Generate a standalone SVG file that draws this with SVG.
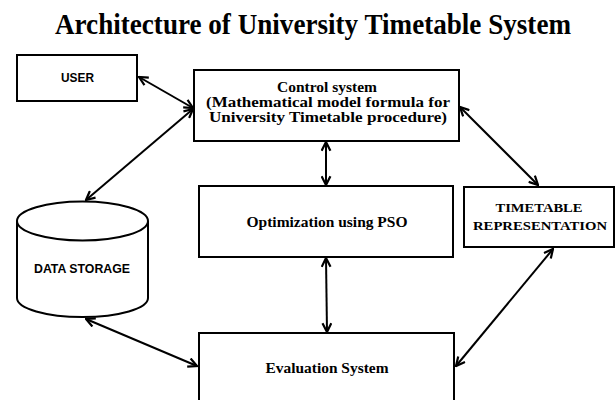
<svg xmlns="http://www.w3.org/2000/svg" width="615" height="400" viewBox="0 0 615 400">
<defs>
<style>
.box{fill:#fff;stroke:#000;stroke-width:2}
.serif{font-family:"Liberation Serif","Times New Roman",serif;font-weight:bold;fill:#000;text-anchor:middle}
.sans{font-family:"Liberation Sans",Arial,sans-serif;font-weight:bold;fill:#000;text-anchor:middle}
.conn{stroke:#000;stroke-width:2;fill:none;marker-start:url(#ah);marker-end:url(#ah)}
</style>
<marker id="ah" viewBox="0 0 10 10" refX="9" refY="5" markerWidth="5.5" markerHeight="5.5" orient="auto-start-reverse" markerUnits="strokeWidth">
<path d="M1,1 L9,5 L1,9" fill="none" stroke="#000" stroke-width="2"/>
</marker>
</defs>
<rect width="615" height="400" fill="#fff"/>
<text class="serif" x="313" y="34" font-size="29" textLength="516" lengthAdjust="spacingAndGlyphs">Architecture of University Timetable System</text>

<g id="connectors">
<line class="conn" x1="139" y1="77" x2="193" y2="108"/>
<line class="conn" x1="193" y1="109" x2="86" y2="200"/>
<line class="conn" x1="326" y1="142" x2="326" y2="185"/>
<line class="conn" x1="460" y1="107" x2="538" y2="185"/>
<line class="conn" x1="326" y1="258" x2="327" y2="332"/>
<line class="conn" x1="553" y1="249" x2="456" y2="366"/>
<line class="conn" x1="86" y1="319" x2="197" y2="366"/>
</g>

<g id="user">
<rect class="box" x="17" y="55" width="120" height="46"/>
<text class="sans" x="77.5" y="82" font-size="13" textLength="33" lengthAdjust="spacingAndGlyphs">USER</text>
</g>

<g id="control">
<rect class="box" x="194" y="70" width="265" height="71"/>
<text class="serif" x="327" y="92" font-size="15" textLength="100" lengthAdjust="spacingAndGlyphs">Control system</text>
<text class="serif" x="328" y="107" font-size="15" textLength="244" lengthAdjust="spacingAndGlyphs">(Mathematical model formula for</text>
<text class="serif" x="328" y="122" font-size="15" textLength="238" lengthAdjust="spacingAndGlyphs">University Timetable procedure)</text>
</g>

<g id="optimization">
<rect class="box" x="199" y="186" width="254" height="71"/>
<text class="serif" x="327" y="227" font-size="15" textLength="161" lengthAdjust="spacingAndGlyphs">Optimization using PSO</text>
</g>

<g id="timetable">
<rect class="box" x="464" y="187" width="150" height="60"/>
<text class="serif" x="539" y="212" font-size="13" textLength="87" lengthAdjust="spacingAndGlyphs">TIMETABLE</text>
<text class="serif" x="540" y="230" font-size="13" textLength="134" lengthAdjust="spacingAndGlyphs">REPRESENTATION</text>
</g>

<g id="datastorage">
<path class="box" d="M17,221 L17,298 A65.5,19 0 0 0 148,298 L148,221"/>
<ellipse class="box" cx="82.5" cy="221" rx="65.5" ry="19.5"/>
<text class="sans" x="82" y="273" font-size="13" textLength="96" lengthAdjust="spacingAndGlyphs">DATA STORAGE</text>
</g>

<g id="evaluation">
<rect class="box" x="199" y="333" width="255" height="80"/>
<text class="serif" x="327" y="373" font-size="15" textLength="123" lengthAdjust="spacingAndGlyphs">Evaluation System</text>
</g>
</svg>
